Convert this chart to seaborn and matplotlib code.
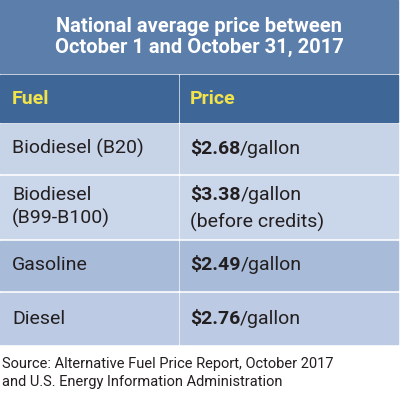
import matplotlib
matplotlib.use("Agg")
import matplotlib.pyplot as plt
from matplotlib.patches import Rectangle
import seaborn as sns

title_lines = ["National average price between", "October 1 and October 31, 2017"]
headers = ["Fuel", "Price"]
fuels = ["Biodiesel (B20)", "Biodiesel\n(B99-B100)", "Gasoline", "Diesel"]
prices = [["$2.68", "/gallon"], ["$3.38", "/gallon\n(before credits)"], ["$2.49", "/gallon"], ["$2.76", "/gallon"]]
source = "Source: Alternative Fuel Price Report, October 2017\nand U.S. Energy Information Administration"

sns.set_style("white")
plt.rcParams['font.family'] = ['Roboto', 'DejaVu Sans']

fig = plt.figure(figsize=(4, 4.03), dpi=100)
ax = fig.add_axes([0, 0, 1, 1])
ax.set_xlim(0, 400); ax.set_ylim(403, 0); ax.axis("off")

W = 398; split = 179
FS = 14
ax.add_patch(Rectangle((0, 0), W, 73, color="#5b7eab"))
ax.text(W/2, 37, "\n".join(title_lines), color="white", ha="center", va="center",
        fontsize=14.5, fontweight="bold", linespacing=1.15)

rows = [(75, 122, "#3e6797")] + [(124, 173, "#c7d4e8"), (176, 238, "#cad6ea"),
                                  (241, 290, "#a8bbd9"), (293, 344, "#bccbe3")]
for (y0, y1, c) in rows:
    ax.add_patch(Rectangle((0, y0), split - 1, y1 - y0, color=c))
    ax.add_patch(Rectangle((split + 1, y0), W - split - 1, y1 - y0, color=c))

ax.text(12, 99, headers[0], color="#f3e34a", fontsize=FS, fontweight="bold", va="center")
ax.text(190, 99, headers[1], color="#f3e34a", fontsize=FS, fontweight="bold", va="center")

for (y0, y1, _), f, p in zip(rows[1:], fuels, prices):
    yc = (y0 + y1) / 2
    ax.text(12, yc, f, color="#231f20", fontsize=FS, va="center", linespacing=1.3)
    t = ax.text(190, yc if "\n" not in p[1] else y0 + 19, p[0], color="#231f20",
                fontsize=FS, fontweight="bold", va="center")
    fig.canvas.draw()
    bb = t.get_window_extent().transformed(ax.transData.inverted())
    if "\n" in p[1]:
        first, second = p[1].split("\n")
        ax.text(bb.x1, y0 + 19, first, color="#231f20", fontsize=FS, va="center")
        ax.text(190, y0 + 46, second, color="#231f20", fontsize=FS, va="center")
    else:
        ax.text(bb.x1, yc, p[1], color="#231f20", fontsize=FS, va="center")

ax.text(2, 373, source, color="#231f20", fontsize=10.5, va="center", linespacing=1.3)
fig.savefig("out.png", dpi=100)
